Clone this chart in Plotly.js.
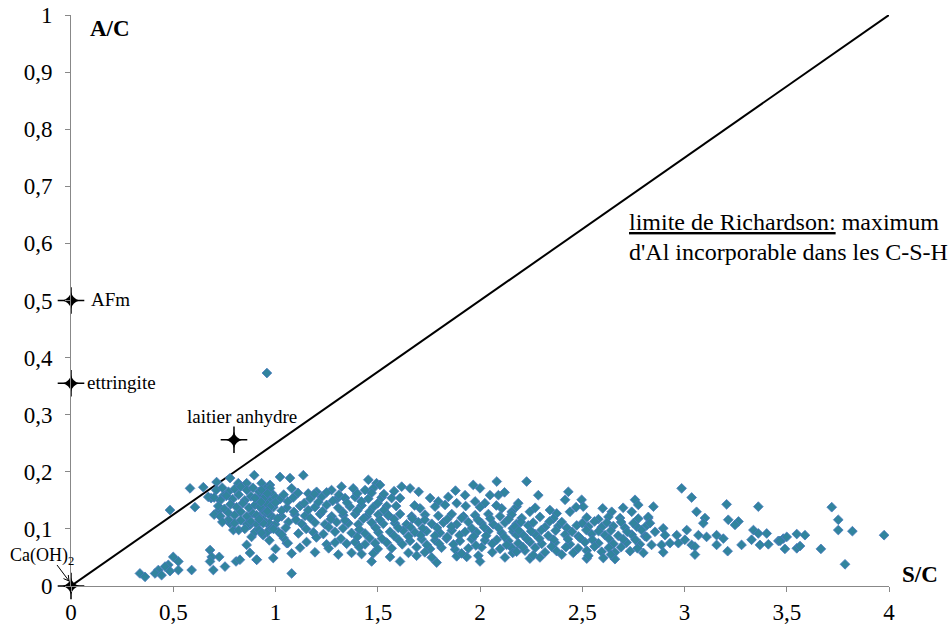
<!DOCTYPE html>
<html>
<head>
<meta charset="utf-8">
<script src="https://cdn.plot.ly/plotly-3.0.1.min.js"></script>
<style>html,body{margin:0;padding:0;background:#fff;}#chart{width:951px;height:628px;}</style>
</head>
<body>
<div id="chart"></div>
<script>
// Measured compositions (S/C, A/C)
const scX = [
0.582,0.647,0.712,0.778,0.896,0.484,0.606,0.685,0.883,0.859,0.875,0.908,0.680,0.688,0.725,0.680,0.753,0.696,0.807,0.826,
0.500,0.525,0.476,0.460,0.427,0.484,0.525,0.590,0.411,0.337,0.362,0.443,
0.671,0.745,0.818,0.859,0.932,0.973,0.794,0.778,0.875,0.900,0.957,0.940,0.717,0.770,
0.71,0.74,0.77,0.80,0.83,0.86,0.89,0.92,0.95,0.98,
0.70,0.73,0.76,0.79,0.82,0.85,0.88,0.91,0.94,0.97,1.00,
0.72,0.75,0.78,0.81,0.84,0.87,0.90,0.93,0.96,0.99,
0.70,0.73,0.77,0.80,0.83,0.86,0.89,0.92,0.95,0.98,
0.74,0.80,0.83,0.86,0.88,0.91,0.94,0.97,
0.82,0.85,0.92,0.96,
1.022,1.071,1.136,1.454,1.494,
0.932,0.973,1.079,1.160,1.201,1.274,1.323,1.380,1.438,1.478,1.511,
0.900,0.949,1.022,1.087,1.169,1.226,1.299,1.340,1.389,1.454,1.519,
0.924,0.981,1.055,1.120,1.193,1.250,1.307,1.364,1.421,1.478,1.544,
0.908,0.965,1.030,1.095,1.144,1.218,1.275,1.332,1.389,1.446,1.503,1.552,
0.940,0.998,1.063,1.128,1.193,1.242,1.299,1.356,1.405,1.470,1.527,
0.932,1.014,1.112,1.185,1.234,1.291,1.372,1.438,1.503,
1.055,1.152,1.250,1.291,1.348,1.389,1.438,1.487,1.544,
1.079,1.193,1.307,1.372,1.421,1.478,
0.989,0.908,1.470,1.079,
0.96,1.04,1.11,1.19,1.25,1.31,1.40,1.47,1.53,
0.93,1.00,1.06,1.14,1.21,1.28,1.35,1.42,1.50,
0.96,1.03,1.09,1.16,1.23,1.33,1.40,1.46,1.53,
0.92,1.01,1.10,1.17,1.27,1.34,1.43,1.51,
0.98,1.05,1.15,1.26,1.33,1.41,1.49,
1.04,1.20,1.32,1.40,1.46,1.52,
1.12,1.26,1.41,1.50,
0.97,1.00,1.03,1.06,0.99,
2.082,1.967,2.000,1.658,1.617,2.090,2.049,1.845,1.927,1.756,1.568,1.609,1.707,1.796,1.829,1.886,1.976,2.024,2.179,2.155,2.106,
1.552,1.609,1.666,1.731,1.796,1.862,1.919,1.976,2.041,2.098,2.155,
1.584,1.641,1.698,1.764,1.821,1.886,1.943,2.008,2.065,2.122,2.179,
1.560,1.625,1.682,1.739,1.804,1.862,1.927,1.984,2.041,2.106,2.163,
1.601,1.658,1.715,1.780,1.837,1.902,1.959,2.024,2.082,2.139,
1.568,1.690,1.756,1.812,1.878,1.943,2.008,2.098,2.155,
1.560,1.690,1.764,1.886,1.935,1.992,2.122,
1.609,1.788,2.000,
1.58,1.70,1.88,2.12,
1.59,1.68,1.78,1.93,2.00,2.08,
1.58,1.67,1.73,1.84,1.91,1.99,2.05,2.14,
1.60,1.66,1.72,1.79,1.86,1.96,2.02,2.09,2.16,
1.58,1.65,1.71,1.78,1.84,1.90,1.97,2.03,2.12,2.18,
1.62,1.74,1.80,1.87,1.98,2.06,2.13,
1.65,1.73,1.91,2.06,2.16,
2.228,2.285,2.432,2.416,2.497,2.758,2.774,2.187,2.440,2.505,2.244,2.342,2.375,2.644,2.742,2.823,
2.204,2.293,2.359,2.522,2.579,2.628,2.685,2.774,
2.171,2.236,2.318,2.383,2.424,2.473,2.530,2.595,2.652,2.709,2.766,2.815,
2.212,2.269,2.334,2.416,2.481,2.546,2.611,2.676,2.742,2.807,
2.187,2.244,2.302,2.367,2.440,2.513,2.579,2.652,2.717,2.782,
2.179,2.220,2.318,2.375,2.456,2.522,2.595,2.660,2.734,2.799,
2.244,2.293,2.522,2.603,2.660,
2.27,2.47,2.60,2.70,
2.20,2.26,2.34,2.40,2.50,2.56,2.62,2.69,2.75,
2.19,2.25,2.30,2.37,2.45,2.52,2.58,2.64,2.72,2.79,
2.23,2.29,2.36,2.43,2.49,2.55,2.63,2.70,2.76,
2.21,2.27,2.35,2.42,2.48,2.56,2.63,2.69,2.77,
2.26,2.40,2.53,2.64,
2.986,3.035,2.848,3.206,3.361,3.059,3.100,3.092,3.214,3.264,3.247,2.823,2.831,
2.896,2.856,2.905,2.815,2.962,3.011,3.068,3.108,3.002,3.157,3.190,3.157,
3.337,3.361,3.402,3.328,3.369,3.410,3.279,3.459,
2.839,2.888,2.929,2.970,3.035,2.896,3.051,3.051,3.211,
3.720,3.752,3.752,3.821,3.976,3.483,3.467,3.500,3.549,3.589,3.491,3.549,3.565,3.667,3.785,
0.958
];
const scY = [
0.171,0.173,0.182,0.189,0.194,0.133,0.138,0.154,0.086,0.072,0.058,0.046,0.063,0.051,0.051,0.043,0.034,0.028,0.043,0.046,
0.051,0.043,0.037,0.034,0.028,0.026,0.028,0.028,0.022,0.022,0.016,0.019,
0.156,0.158,0.180,0.180,0.180,0.177,0.098,0.110,0.107,0.095,0.110,0.089,0.130,0.116,
0.168,0.172,0.165,0.170,0.174,0.168,0.172,0.165,0.170,0.163,
0.155,0.150,0.158,0.152,0.160,0.150,0.157,0.152,0.158,0.150,0.155,
0.140,0.135,0.143,0.138,0.145,0.137,0.142,0.136,0.143,0.138,
0.125,0.122,0.128,0.124,0.130,0.122,0.127,0.121,0.128,0.123,
0.112,0.110,0.115,0.108,0.113,0.108,0.115,0.110,
0.098,0.100,0.098,0.095,
0.191,0.189,0.194,0.186,0.180,
0.168,0.171,0.171,0.162,0.165,0.168,0.174,0.171,0.168,0.171,0.177,
0.154,0.156,0.152,0.155,0.153,0.156,0.152,0.154,0.156,0.153,0.155,
0.139,0.141,0.137,0.140,0.138,0.142,0.137,0.139,0.141,0.138,0.140,
0.124,0.126,0.122,0.125,0.123,0.126,0.122,0.124,0.126,0.122,0.125,0.123,
0.110,0.108,0.112,0.109,0.111,0.108,0.112,0.110,0.108,0.111,0.109,
0.093,0.095,0.092,0.094,0.091,0.095,0.093,0.092,0.094,
0.075,0.077,0.073,0.076,0.074,0.077,0.073,0.075,0.076,
0.057,0.059,0.055,0.058,0.056,0.057,
0.049,0.046,0.043,0.022,
0.162,0.160,0.163,0.161,0.164,0.160,0.162,0.163,0.161,
0.147,0.146,0.148,0.145,0.147,0.149,0.146,0.148,0.145,
0.131,0.132,0.130,0.133,0.131,0.129,0.132,0.130,0.133,
0.117,0.118,0.116,0.119,0.117,0.115,0.118,0.116,
0.101,0.102,0.100,0.103,0.101,0.099,0.102,
0.084,0.085,0.083,0.086,0.084,0.083,
0.067,0.066,0.068,0.065,
0.080,0.065,0.090,0.075,0.100,
0.183,0.177,0.171,0.171,0.174,0.159,0.159,0.156,0.159,0.154,0.154,0.154,0.136,0.148,0.142,0.145,0.148,0.145,0.139,0.130,0.136,
0.124,0.126,0.122,0.125,0.123,0.126,0.122,0.124,0.126,0.122,0.125,
0.110,0.108,0.112,0.109,0.111,0.108,0.112,0.110,0.108,0.111,0.109,
0.095,0.097,0.094,0.096,0.093,0.097,0.095,0.094,0.096,0.093,0.095,
0.081,0.079,0.082,0.080,0.083,0.079,0.082,0.080,0.081,0.079,
0.066,0.068,0.065,0.067,0.064,0.066,0.068,0.065,0.067,
0.051,0.053,0.050,0.052,0.051,0.053,0.050,
0.043,0.041,0.043,
0.166,0.165,0.167,0.164,
0.140,0.141,0.139,0.140,0.138,0.141,
0.117,0.118,0.116,0.117,0.119,0.116,0.118,0.117,
0.102,0.103,0.101,0.102,0.104,0.101,0.103,0.102,0.101,
0.088,0.087,0.089,0.088,0.086,0.089,0.087,0.088,0.086,0.089,
0.073,0.072,0.074,0.073,0.071,0.074,0.072,
0.058,0.059,0.057,0.059,0.058,
0.183,0.159,0.165,0.151,0.151,0.151,0.142,0.145,0.130,0.139,0.130,0.133,0.127,0.130,0.130,0.119,
0.119,0.121,0.118,0.120,0.117,0.121,0.119,0.118,
0.104,0.106,0.103,0.105,0.102,0.106,0.104,0.103,0.105,0.102,0.104,0.106,
0.089,0.091,0.088,0.090,0.087,0.091,0.089,0.088,0.090,0.087,
0.075,0.077,0.074,0.076,0.073,0.077,0.075,0.074,0.076,0.073,
0.060,0.062,0.059,0.061,0.058,0.062,0.060,0.059,0.061,0.058,
0.048,0.050,0.048,0.049,0.047,
0.137,0.138,0.136,0.137,
0.112,0.111,0.113,0.112,0.110,0.113,0.111,0.112,0.110,
0.097,0.096,0.098,0.097,0.095,0.098,0.096,0.097,0.095,0.098,
0.082,0.083,0.081,0.082,0.084,0.081,0.083,0.082,0.081,
0.068,0.067,0.069,0.068,0.066,0.069,0.067,0.068,0.066,
0.054,0.055,0.053,0.055,
0.171,0.155,0.139,0.143,0.139,0.130,0.119,0.110,0.116,0.113,0.107,0.121,0.110,
0.101,0.095,0.089,0.086,0.089,0.098,0.089,0.086,0.081,0.089,0.083,0.072,
0.098,0.092,0.092,0.081,0.072,0.073,0.072,0.079,
0.072,0.072,0.075,0.075,0.072,0.059,0.069,0.055,0.061,
0.138,0.116,0.098,0.096,0.089,0.083,0.079,0.086,0.091,0.089,0.065,0.066,0.070,0.065,0.038,
0.373
];

// Reference phases (Ca(OH)2, AFm, ettringite, laitier anhydre)
const refX = [0, 0, 0, 0.797];
const refY = [0, 0.5, 0.355, 0.256];

// Richardson limit line
const limX = [0, 4];
const limY = [0, 1];

const xTicks = [0, 0.5, 1, 1.5, 2, 2.5, 3, 3.5, 4];
const xTickText = ['0', '0,5', '1', '1,5', '2', '2,5', '3', '3,5', '4'];
const yTicks = [0, 0.1, 0.2, 0.3, 0.4, 0.5, 0.6, 0.7, 0.8, 0.9, 1];
const yTickText = ['0', '0,1', '0,2', '0,3', '0,4', '0,5', '0,6', '0,7', '0,8', '0,9', '1'];

const serif = 'Liberation Serif, Times New Roman, serif';

const traces = [
  {x: limX, y: limY, mode: 'lines', line: {color: '#000', width: 2}, hoverinfo: 'skip', cliponaxis: false},
  {x: scX, y: scY, mode: 'markers', cliponaxis: false,
   marker: {symbol: 'diamond', size: 7.5, color: '#31849e', line: {color: '#4a78bf', width: 0.8}}},
  {x: refX, y: refY, mode: 'markers', cliponaxis: false,
   marker: {symbol: 'cross-thin', size: 19, color: '#000', line: {color: '#000', width: 1.5}}},
  {x: refX, y: refY, mode: 'markers', cliponaxis: false,
   marker: {symbol: 'star-diamond', size: 12, color: '#000', line: {width: 0}}}
];

const layout = {
  width: 951, height: 628,
  margin: {l: 71, r: 62, t: 15, b: 42},
  paper_bgcolor: '#fff', plot_bgcolor: '#fff',
  showlegend: false,
  font: {family: serif, color: '#000', size: 22},
  xaxis: {range: [0, 4], tickvals: xTicks, ticktext: xTickText, ticks: 'outside', ticklen: 5,
          tickcolor: '#888', showline: true, linecolor: '#888', linewidth: 1, showgrid: false,
          zeroline: false, tickfont: {family: serif, size: 23, color: '#000'}, fixedrange: true},
  yaxis: {range: [0, 1], tickvals: yTicks, ticktext: yTickText, ticks: 'outside', ticklen: 5,
          tickcolor: '#888', showline: true, linecolor: '#888', linewidth: 1, showgrid: false,
          zeroline: false, tickfont: {family: serif, size: 23, color: '#000'}, ticklabelstandoff: 8, fixedrange: true},
  shapes: [
    {type: 'path', xref: 'paper', yref: 'paper',
     path: 'M -0.0171,0.0368 L -0.00244,0.00876 M -0.0033,0.0193 L -0.00244,0.00876 L -0.00917,0.01296',
     line: {color: '#000', width: 1}}
  ],
  annotations: [
    {x: 0.083, y: 0.977, xref: 'x', yref: 'y', text: '<b>A/C</b>', showarrow: false, xanchor: 'left', yanchor: 'middle', font: {family: serif, size: 23}},
    {x: 1.0134, y: 0.0193, xref: 'paper', yref: 'paper', text: '<b>S/C</b>', showarrow: false, xanchor: 'left', yanchor: 'middle', font: {family: serif, size: 23}},
    {x: 0.09, y: 0.502, xref: 'x', yref: 'y', text: 'AFm', showarrow: false, xanchor: 'left', yanchor: 'middle', font: {family: serif, size: 19}},
    {x: 0.066, y: 0.357, xref: 'x', yref: 'y', text: 'ettringite', showarrow: false, xanchor: 'left', yanchor: 'middle', font: {family: serif, size: 19}},
    {x: 0.836, y: 0.297, xref: 'x', yref: 'y', text: 'laitier anhydre', showarrow: false, xanchor: 'center', yanchor: 'middle', font: {family: serif, size: 19}},
    {x: -0.0355, y: 0.0508, xref: 'paper', yref: 'paper', text: 'Ca(OH)<sub>2</sub>', showarrow: false, xanchor: 'center', yanchor: 'middle', font: {family: serif, size: 18}},
    {x: 2.719, y: 0.637, xref: 'x', yref: 'y', text: '<u>limite de Richardson:</u> maximum', showarrow: false, xanchor: 'left', yanchor: 'middle', font: {family: serif, size: 24}},
    {x: 2.719, y: 0.585, xref: 'x', yref: 'y', text: "d'Al incorporable dans les C-S-H", showarrow: false, xanchor: 'left', yanchor: 'middle', font: {family: serif, size: 24}}
  ]
};

Plotly.newPlot('chart', traces, layout, {displayModeBar: false, staticPlot: true});
</script>
</body>
</html>
